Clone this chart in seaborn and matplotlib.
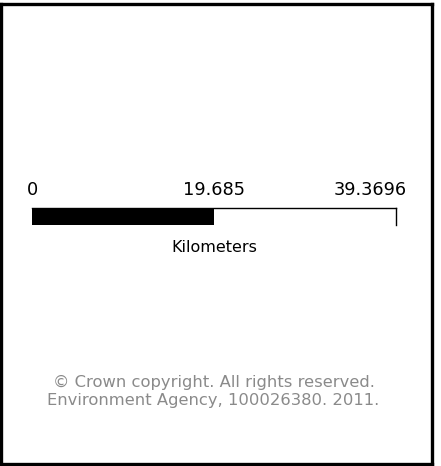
import matplotlib
matplotlib.use("Agg")
import matplotlib.pyplot as plt
import matplotlib.transforms as mtransforms
import seaborn as sns

# scale bar data (kilometers)
segment_starts = [0.0, 19.685]
segment_ends = [19.685, 39.3696]
segment_colors = ["black", "white"]
tick_values = [0.0, 19.685, 39.3696]
tick_labels = ["0", "19.685", "39.3696"]
unit_label = "Kilometers"
credit_lines = ["\u00a9 Crown copyright. All rights reserved.",
                "Environment Agency, 100026380. 2011."]

sns.set_theme(style="white")
plt.rcParams["font.family"] = ["DejaVu Sans"]

W, H = 441, 466
fig = plt.figure(figsize=(W / 100, H / 100), dpi=100)
fig.patch.set_facecolor("white")

# outer frame
frame = fig.add_axes([1.2 / W, 1 - 464 / H, 431 / W, 460 / H])
frame.set_xticks([])
frame.set_yticks([])
for s in frame.spines.values():
    s.set_visible(True)
    s.set_color("black")
    s.set_linewidth(2.4)
frame.patch.set_alpha(0)

# scale bar
ax = fig.add_axes([32 / W, 1 - 225 / H, 364 / W, 17 / H])
widths = [e - s for s, e in zip(segment_starts, segment_ends)]
ax.barh([0] * len(widths), widths, left=segment_starts, height=1.0,
        color=segment_colors, edgecolor="none", linewidth=0)
ax.set_xlim(tick_values[0], tick_values[-1])
ax.set_ylim(-0.5, 0.5)
ax.set_yticks([])
for name in ["left", "bottom"]:
    ax.spines[name].set_visible(False)
for name in ["top", "right"]:
    ax.spines[name].set_visible(True)
    ax.spines[name].set_color("black")
    ax.spines[name].set_linewidth(1.0)
ax.patch.set_alpha(0)

ax.xaxis.tick_top()
ax.set_xticks(tick_values)
ax.set_xticklabels(tick_labels, fontsize=12.8, color="black")
ax.tick_params(axis="x", length=0, pad=6.5)
last = ax.get_xticklabels()[-1]
last.set_ha("right")
last.set_transform(last.get_transform() +
                   mtransforms.ScaledTranslation(11 / 100, 0, fig.dpi_scale_trans))

ax.set_xlabel(unit_label, fontsize=11.5, color="black", labelpad=11)

fig.text(214 / W, 1 - 382 / H, credit_lines[0], ha="center", va="center",
         fontsize=11.8, color="#8a8a8a")
fig.text(213.5 / W, 1 - 400 / H, credit_lines[1], ha="center", va="center",
         fontsize=11.8, color="#8a8a8a")

fig.savefig("out.png", dpi=100, facecolor="white")
